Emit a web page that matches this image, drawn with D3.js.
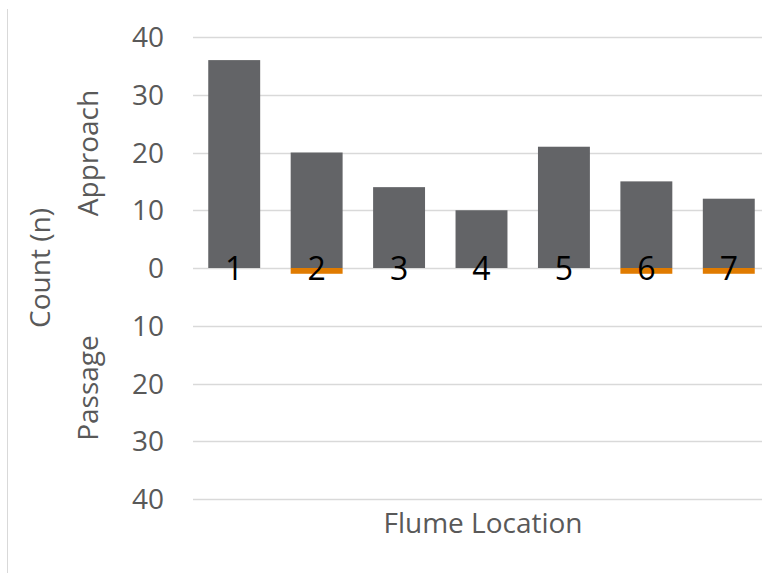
<!DOCTYPE html>
<html><head><meta charset="utf-8">
<script src="https://cdn.jsdelivr.net/npm/d3@7"></script>
<style>body{margin:0;background:#fff}svg{display:block}</style>
</head><body><svg id="c" width="762" height="573"></svg>
<script>
const categories = ["1","2","3","4","5","6","7"];
const approach = [36,20,14,10,21,15,12];
const passage = [0,1,0,0,0,1,1];
const yTicks = [40,30,20,10,0,-10,-20,-30,-40];
const tickLabels = ["40","30","20","10","0","10","20","30","40"];

const svg = d3.select("#c");
const font = "'Open Sans', sans-serif";
const plot = {left:193, right:770, top:37, bottom:499};

const x = d3.scaleBand().domain(categories).range([plot.left, plot.right]).paddingInner(0.37).paddingOuter(0.185);
const y = d3.scaleLinear().domain([-40,40]).range([plot.bottom, plot.top]);

svg.append("line").attr("x1",7.5).attr("x2",7.5).attr("y1",9).attr("y2",573)
  .attr("stroke","#d9d9d9").attr("stroke-width",1);

svg.append("g").selectAll("line").data(yTicks).join("line")
  .attr("x1",plot.left).attr("x2",plot.right)
  .attr("y1",d=>Math.round(y(d))+0.5).attr("y2",d=>Math.round(y(d))+0.5)
  .attr("stroke","#d9d9d9").attr("stroke-width",1.3);

svg.append("g").selectAll("text").data(yTicks).join("text")
  .attr("x",164).attr("y",d=>y(d)).attr("dy","0.36em")
  .attr("text-anchor","end").attr("fill","#595959")
  .style("font-family",font).style("font-size","28px")
  .text((d,i)=>tickLabels[i]);

svg.append("g").selectAll("rect").data(approach).join("rect")
  .attr("x",(d,i)=>x(categories[i])).attr("width",x.bandwidth())
  .attr("y",d=>y(d)).attr("height",d=>y(0)-y(d))
  .attr("fill","#636467");

svg.append("g").selectAll("rect").data(passage).join("rect")
  .attr("x",(d,i)=>x(categories[i])).attr("width",x.bandwidth())
  .attr("y",y(0)).attr("height",d=>y(-d)-y(0))
  .attr("fill","#e07b00");

svg.append("g").selectAll("text").data(categories).join("text")
  .attr("x",d=>x(d)+x.bandwidth()/2).attr("y",y(0)).attr("dy","0.36em")
  .attr("text-anchor","middle").attr("fill","#000")
  .style("font-family",font).style("font-size","32px")
  .text(d=>d);

svg.append("text").attr("transform",`translate(40,${y(0)}) rotate(-90)`)
  .attr("dy","0.36em").attr("text-anchor","middle").attr("fill","#595959")
  .style("font-family",font).style("font-size","28px").text("Count (n)");
svg.append("text").attr("transform",`translate(88,153) rotate(-90)`)
  .attr("dy","0.36em").attr("text-anchor","middle").attr("fill","#595959")
  .style("font-family",font).style("font-size","28px").text("Approach");
svg.append("text").attr("transform",`translate(88,388) rotate(-90)`)
  .attr("dy","0.36em").attr("text-anchor","middle").attr("fill","#595959")
  .style("font-family",font).style("font-size","28px").text("Passage");
svg.append("text").attr("x",483).attr("y",523).attr("dy","0.36em")
  .attr("text-anchor","middle").attr("fill","#595959")
  .style("font-family",font).style("font-size","28px").text("Flume Location");
</script></body></html>
